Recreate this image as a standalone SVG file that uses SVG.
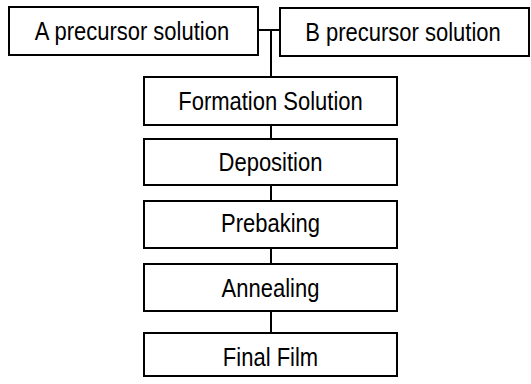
<svg xmlns="http://www.w3.org/2000/svg" width="531" height="384" viewBox="0 0 531 384">
<style>
.box{fill:#fff;stroke:#000;stroke-width:2}
.lbl{font-family:"Liberation Sans",Arial,sans-serif;font-size:22px;fill:#000;text-anchor:middle}
.con{stroke:#000;stroke-width:2;fill:none}
</style>
<rect width="531" height="384" fill="#fff"/>
<g id="connectors">
<line class="con" x1="258" y1="30" x2="280" y2="30"/>
<line class="con" x1="271" y1="30" x2="271" y2="77"/>
<line class="con" x1="271" y1="125" x2="271" y2="139"/>
<line class="con" x1="271" y1="185" x2="271" y2="201"/>
<line class="con" x1="271" y1="248" x2="271" y2="264"/>
<line class="con" x1="271" y1="311" x2="271" y2="333"/>
</g>
<g id="nodeA"><rect class="box" x="9" y="7" width="249" height="48"/><text class="lbl" transform="translate(132,40) scale(1,1.2)">A precursor solution</text></g>
<g id="nodeB"><rect class="box" x="280" y="8" width="249" height="48"/><text class="lbl" transform="translate(403,41) scale(1,1.2)">B precursor solution</text></g>
<g id="formation"><rect class="box" x="144" y="77" width="253" height="48"/><text class="lbl" transform="translate(270.5,110) scale(1,1.2)">Formation Solution</text></g>
<g id="deposition"><rect class="box" x="144" y="139" width="253" height="46"/><text class="lbl" transform="translate(270.5,171) scale(1,1.2)">Deposition</text></g>
<g id="prebaking"><rect class="box" x="144" y="201" width="253" height="47"/><text class="lbl" transform="translate(270.5,232) scale(1,1.2)">Prebaking</text></g>
<g id="annealing"><rect class="box" x="144" y="264" width="253" height="47"/><text class="lbl" transform="translate(270.5,297) scale(1,1.2)">Annealing</text></g>
<g id="finalfilm"><rect class="box" x="144" y="333" width="253" height="43"/><text class="lbl" transform="translate(270.5,366) scale(1,1.2)">Final Film</text></g>
</svg>
